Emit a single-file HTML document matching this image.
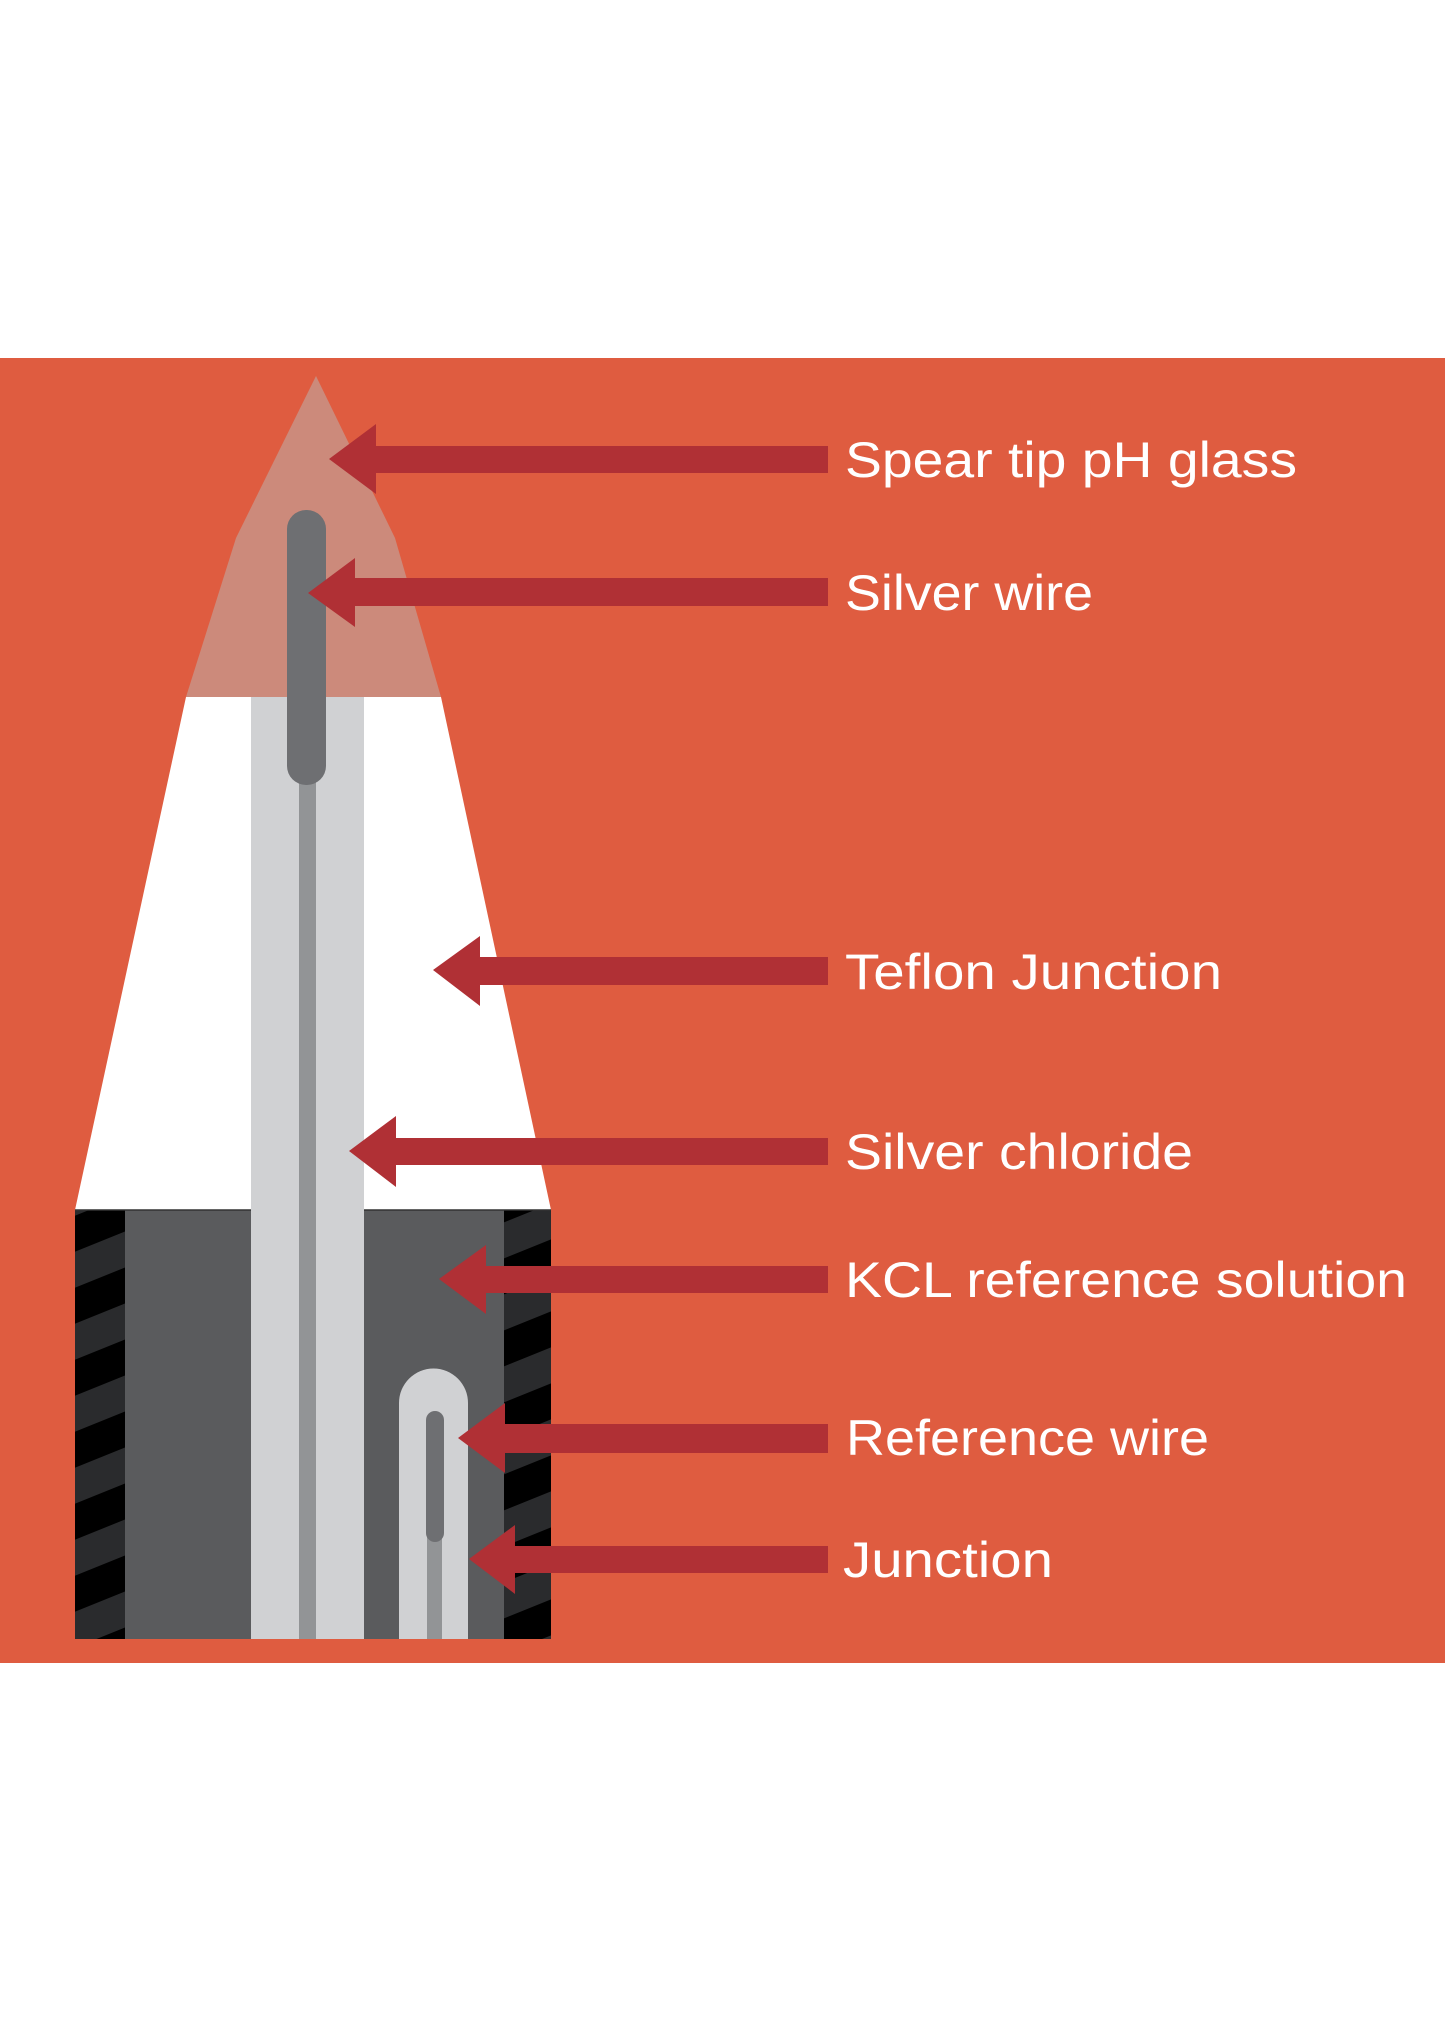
<!DOCTYPE html>
<html><head><meta charset="utf-8"><style>html,body{margin:0;padding:0;background:#fff}svg{display:block}</style></head><body>
<svg width="1445" height="2023" viewBox="0 0 1445 2023" xmlns="http://www.w3.org/2000/svg">
<defs>
<pattern id="h" patternUnits="userSpaceOnUse" width="100" height="72" patternTransform="translate(0,1210) skewY(-22)">
<rect width="100" height="72" fill="#2a2b2d"/><rect y="36" width="100" height="36" fill="#000"/>
</pattern>
</defs>
<rect x="0" y="0" width="1445" height="2023" fill="#fff"/>
<rect x="0" y="358" width="1445" height="1305" fill="#df5c40"/>
<!-- white teflon trapezoid -->
<polygon points="186,697 441,697 551,1210 75,1210" fill="#fff"/>
<!-- glass tip -->
<polygon points="316,376 395,538 441,697 186,697 236,538" fill="#cc8a7b"/>
<!-- lower box -->
<rect x="75" y="1210" width="476" height="429" fill="#5a5b5d"/>
<rect x="75" y="1210" width="50" height="429" fill="url(#h)"/>
<rect x="504" y="1210" width="47" height="429" fill="url(#h)"/>
<line x1="75" y1="1210" x2="551" y2="1210" stroke="#333" stroke-width="1.5"/>
<!-- central column -->
<rect x="251" y="697" width="113" height="942" fill="#d0d1d3"/>
<rect x="299" y="760" width="17" height="879" fill="#929496"/>
<rect x="287" y="510" width="39" height="275" rx="19" fill="#6e6f72"/>
<!-- reference tube -->
<path d="M399,1639 L399,1403 A34.5,34.5 0 0 1 468,1403 L468,1639 Z" fill="#d0d1d3"/>
<rect x="427" y="1500" width="15" height="139" fill="#929496"/>
<rect x="426" y="1411" width="18" height="131" rx="9" fill="#6e6f72"/>
<!-- arrows -->
<g fill="#b03035">
<polygon points="329,459 376,424 376,446 828,446 828,473 376,473 376,494"/>
<polygon points="308,593 355,558 355,578 828,578 828,606 355,606 355,627"/>
<polygon points="433,970 480,936 480,957 828,957 828,985 480,985 480,1006"/>
<polygon points="349,1151 396,1116 396,1138 828,1138 828,1165 396,1165 396,1187"/>
<polygon points="439,1279 486,1245 486,1266 828,1266 828,1293 486,1293 486,1314"/>
<polygon points="458,1438 505,1403 505,1424 828,1424 828,1453 505,1453 505,1473"/>
<polygon points="469,1559 515,1525 515,1546 828,1546 828,1573 515,1573 515,1594"/>
</g>
<g fill="#fff" font-family="Liberation Sans, sans-serif" font-size="50">
<text x="845" y="477" textLength="452" lengthAdjust="spacingAndGlyphs">Spear tip pH glass</text>
<text x="845" y="610" textLength="248" lengthAdjust="spacingAndGlyphs">Silver wire</text>
<text x="845" y="989" textLength="377" lengthAdjust="spacingAndGlyphs">Teflon Junction</text>
<text x="845" y="1169" textLength="348" lengthAdjust="spacingAndGlyphs">Silver chloride</text>
<text x="845" y="1297" textLength="562" lengthAdjust="spacingAndGlyphs">KCL reference solution</text>
<text x="846" y="1455" textLength="363" lengthAdjust="spacingAndGlyphs">Reference wire</text>
<text x="843" y="1577" textLength="210" lengthAdjust="spacingAndGlyphs">Junction</text>
</g>
</svg>
</body></html>
